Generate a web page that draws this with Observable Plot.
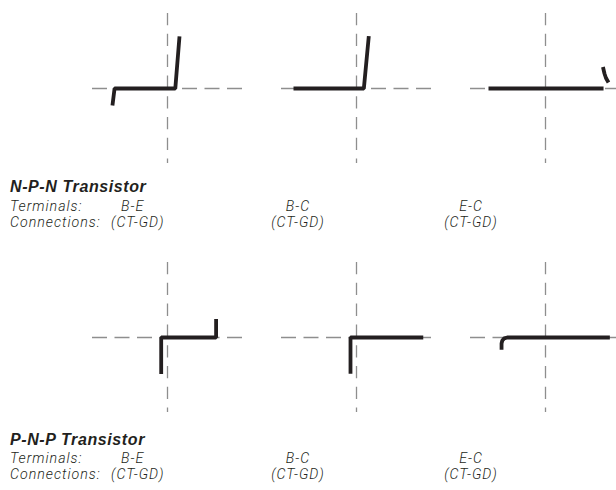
<!DOCTYPE html>
<html><head><meta charset="utf-8">
<script src="https://cdn.jsdelivr.net/npm/d3@7"></script>
<script src="https://cdn.jsdelivr.net/npm/@observablehq/plot@0.6"></script>
<style>
html,body{margin:0;padding:0;background:#fff;overflow:hidden}
#page{position:relative;width:616px;height:490px;overflow:hidden}
.block{position:relative;width:616px}
.t{position:absolute;white-space:nowrap;font-family:Roboto,"Liberation Sans",sans-serif;font-style:italic;font-weight:300;font-size:14.2px;line-height:14px;letter-spacing:1px;color:#231f20}
.title{font-family:"Liberation Sans",Arial,sans-serif;font-weight:700;font-size:16px;line-height:16px;letter-spacing:0.6px}
.c{transform:translateX(-50%)}
svg{display:block;overflow:hidden}
</style></head><body><div id="page"></div>
<script>
// ---- data ----
const terminals = ["B-E", "B-C", "E-C"];
const connections = ["(CT-GD)", "(CT-GD)", "(CT-GD)"];
const titles = ["N-P-N Transistor", "P-N-P Transistor"];
const labelTerminals = "Terminals:";
const labelConnections = "Connections:";
// traces in curve-tracer divisions (x right, y up), origin at crosshair
const npnBE = [[-3.67, -1.13], [-3.53, 0], [0.52, 0], [0.8, 3.47]];
const npnBC = [[-4.2, 0], [0.49, 0], [0.82, 3.49]];
const npnEC = [[-3.8, 0], [3.87, 0]];
const npnECtail = [[3.83, 1.43], [3.93, 1.0], [4.03, 0.7], [4.2, 0.4]];
const pnpBE = [[-0.42, -2.43], [-0.42, 0], [3.24, 0], [3.24, 1.24]];
const pnpBC = [[-0.4, -2.42], [-0.4, 0], [4.45, 0]];
const pnpEC = [[-2.93, -0.82], [-2.93, -0.4], [-2.88, -0.2], [-2.75, -0.06], [-2.55, 0], [4.29, 0]];
const axisSpan = [-5, 5];

function toRows(traces) {
  return traces.flatMap(([term, id, pts]) => pts.map(([x, y]) => ({terminals: term, trace: id, x, y})));
}
const npnRows = toRows([["B-E", "be", npnBE], ["B-C", "bc", npnBC], ["E-C", "ec", npnEC], ["E-C", "ec2", npnECtail]]);
const pnpRows = toRows([["B-E", "be", pnpBE], ["B-C", "bc", pnpBC], ["E-C", "ec", pnpEC]]);

function panelRow(data) {
  return Plot.plot({
    width: 616, height: 175,
    marginLeft: 49, marginRight: 0, marginTop: 0, marginBottom: 0,
    style: {background: "transparent", overflow: "hidden"},
    facet: {data, x: "terminals"},
    fx: {domain: terminals, padding: 0, axis: null},
    x: {domain: [-118 / 15, 71 / 15], axis: null},
    y: {domain: [-87 / 15, 88 / 15], axis: null},
    marks: [
      Plot.ruleY([0], {x1: axisSpan[0], x2: axisSpan[1], stroke: "#8e8e8e", strokeWidth: 1.3, strokeDasharray: "15,7.5"}),
      Plot.ruleX([0], {y1: axisSpan[1], y2: axisSpan[0], stroke: "#8e8e8e", strokeWidth: 1.3, strokeDasharray: "12.3,8.5"}),
      Plot.line(data, {x: "x", y: "y", z: "trace", stroke: "#231f20", strokeWidth: 3.8, strokeLinejoin: "miter", strokeLinecap: "butt", curve: "linear"})
    ]
  });
}

function span(text, cls, left, top) {
  const s = document.createElement("span");
  s.className = cls;
  s.textContent = text;
  s.style.left = left + "px";
  s.style.top = top + "px";
  return s;
}

function textBlock(title, height, tops) {
  const b = document.createElement("div");
  b.className = "block";
  b.style.height = height + "px";
  b.appendChild(span(title, "t title", 10, tops[0]));
  b.appendChild(span(labelTerminals, "t", 10, tops[1]));
  b.appendChild(span(labelConnections, "t", 10, tops[2]));
  b.appendChild(span(terminals[0], "t", 121, tops[1]));
  b.appendChild(span(connections[0], "t", 111, tops[2]));
  const centers = [null, 298, 471];
  for (let i = 1; i < 3; i++) {
    b.appendChild(span(terminals[i], "t c", centers[i], tops[1]));
    b.appendChild(span(connections[i], "t c", centers[i], tops[2]));
  }
  return b;
}

const page = document.getElementById("page");
page.appendChild(panelRow(npnRows));
page.appendChild(textBlock(titles[0], 74, [4.3, 24, 40]));
page.appendChild(panelRow(pnpRows));
page.appendChild(textBlock(titles[1], 66, [8.3, 27, 43]));
</script>
</body></html>
